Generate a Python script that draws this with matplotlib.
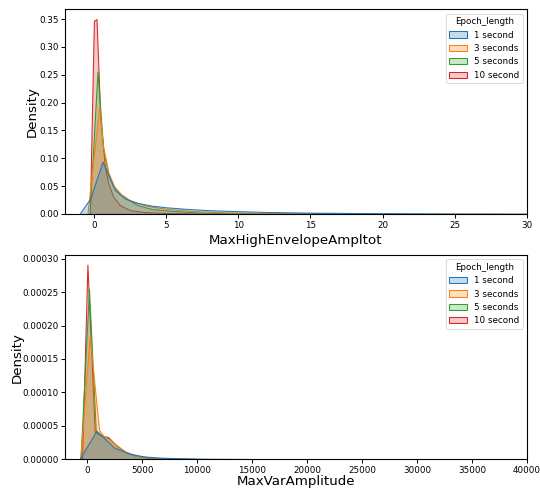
import matplotlib
matplotlib.use("Agg")
import matplotlib.pyplot as plt
from matplotlib.patches import Patch
from matplotlib.colors import to_rgba

# Epoch length groups and their colours
epoch_labels = ["1 second", "3 seconds", "5 seconds", "10 second"]
epoch_colors = ["#1f77b4", "#ff7f0e", "#2ca02c", "#d62728"]

# Density estimates of MaxHighEnvelopeAmpltot per epoch length
hi_x_1s = [-1.0, -0.25, 0.6, 1.45, 2.2, 3.0, 4.0, 5.0, 6.5, 8.0, 10.0, 12.0, 15.0, 20.0, 25.0, 30.0, 32.0]
hi_d_1s = [0, 0.028, 0.094, 0.043, 0.027, 0.020, 0.015, 0.012, 0.009, 0.0068, 0.005, 0.0036, 0.0024, 0.0013, 0.0007, 0.0004, 0.0003]
hi_x_3s = [-0.45, 0.37, 0.6, 1.0, 1.4, 1.9, 2.5, 3.2, 4.0, 5.3, 7.0, 9.0, 12.0, 16.0, 22.0, 30.0]
hi_d_3s = [0, 0.193, 0.127, 0.075, 0.05, 0.035, 0.025, 0.018, 0.013, 0.0085, 0.005, 0.003, 0.0015, 0.0006, 0.0002, 0]
hi_x_5s = [-0.3, 0.25, 0.65, 1.0, 1.35, 1.8, 2.2, 3.0, 4.0, 5.3, 7.0, 9.0, 12.0, 18.0, 30.0]
hi_d_5s = [0, 0.256, 0.115, 0.07, 0.049, 0.036, 0.029, 0.016, 0.009, 0.0056, 0.003, 0.0015, 0.0006, 0.0002, 0]
hi_x_10s = [-0.28, 0.0, 0.18, 0.45, 0.76, 1.0, 1.34, 1.8, 2.5, 3.5, 5.0, 7.0, 10.0, 30.0]
hi_d_10s = [0, 0.347, 0.350, 0.17, 0.085, 0.055, 0.031, 0.016, 0.007, 0.0035, 0.0018, 0.0009, 0.0004, 0]

# Density estimates of MaxVarAmplitude per epoch length
var_x_1s = [-700, 855, 2450, 3850, 5200, 6700, 8500, 11000, 15000, 20000, 30000, 40000, 42000]
var_d_1s = [0, 4.27e-5, 1.75e-5, 8.5e-6, 4.2e-6, 2.5e-6, 1.5e-6, 8e-7, 4e-7, 2e-7, 8e-8, 3e-8, 0]
var_x_3s = [-620, 245, 1090, 1500, 2100, 2800, 3600, 4500, 6000, 8000, 12000]
var_d_3s = [0, 1.85e-4, 4.4e-5, 3.5e-5, 2.9e-5, 1.9e-5, 1.0e-5, 5e-6, 2e-6, 8e-7, 0]
var_x_5s = [-600, 180, 800, 1400, 2000, 2700, 3500, 4500, 6000, 8000, 12000]
var_d_5s = [0, 2.55e-4, 4.2e-5, 3.5e-5, 3.1e-5, 2.0e-5, 1.1e-5, 5e-6, 2e-6, 8e-7, 0]
var_x_10s = [-450, 36, 700, 1300, 1900, 2600, 3500, 4500, 6000, 8000, 12000]
var_d_10s = [0, 2.91e-4, 4.1e-5, 3.5e-5, 3.35e-5, 2.2e-5, 1.1e-5, 5e-6, 2e-6, 8e-7, 0]

hi_curves = [(hi_x_1s, hi_d_1s), (hi_x_3s, hi_d_3s), (hi_x_5s, hi_d_5s), (hi_x_10s, hi_d_10s)]
var_curves = [(var_x_1s, var_d_1s), (var_x_3s, var_d_3s), (var_x_5s, var_d_5s), (var_x_10s, var_d_10s)]

fig = plt.figure(figsize=(5.4, 4.9), dpi=100)
ax_top = fig.add_axes([0.1204, 0.5633, 0.8556, 0.4177])
ax_bot = fig.add_axes([0.1204, 0.0627, 0.8556, 0.4169])


def draw_kde(ax, curves, xlim, ylim_top, xlabel, xpad, ypad):
    # last group first, so the first group ends up on top
    for (xs, ds), color in reversed(list(zip(curves, epoch_colors))):
        ax.fill_between(xs, ds, 0, facecolor=to_rgba(color, 0.25),
                        edgecolor=color, linewidth=0.75)
    ax.set_xlim(*xlim)
    ax.set_ylim(0, ylim_top)
    ax.set_xlabel(xlabel, fontsize=9.6, labelpad=xpad)
    ax.set_ylabel("Density", fontsize=9.6, labelpad=ypad)
    ax.tick_params(labelsize=6.3, length=2.7, width=0.7, pad=2)
    for sp in ax.spines.values():
        sp.set_linewidth(0.8)
    handles = [Patch(facecolor=to_rgba(c, 0.25), edgecolor=c, linewidth=0.75, label=l)
               for c, l in zip(epoch_colors, epoch_labels)]
    leg = ax.legend(handles=handles, title="Epoch_length", loc="upper right",
                    fontsize=6.3, title_fontsize=6.3)
    leg.get_frame().set_linewidth(0.6)


draw_kde(ax_top, hi_curves, (-2, 30), 0.3675, "MaxHighEnvelopeAmpltot", 3.0, 0.0)
draw_kde(ax_bot, var_curves, (-2000, 40000), 0.0003055, "MaxVarAmplitude", 0.5, -1.5)

fig.savefig("out.png", dpi=100)
